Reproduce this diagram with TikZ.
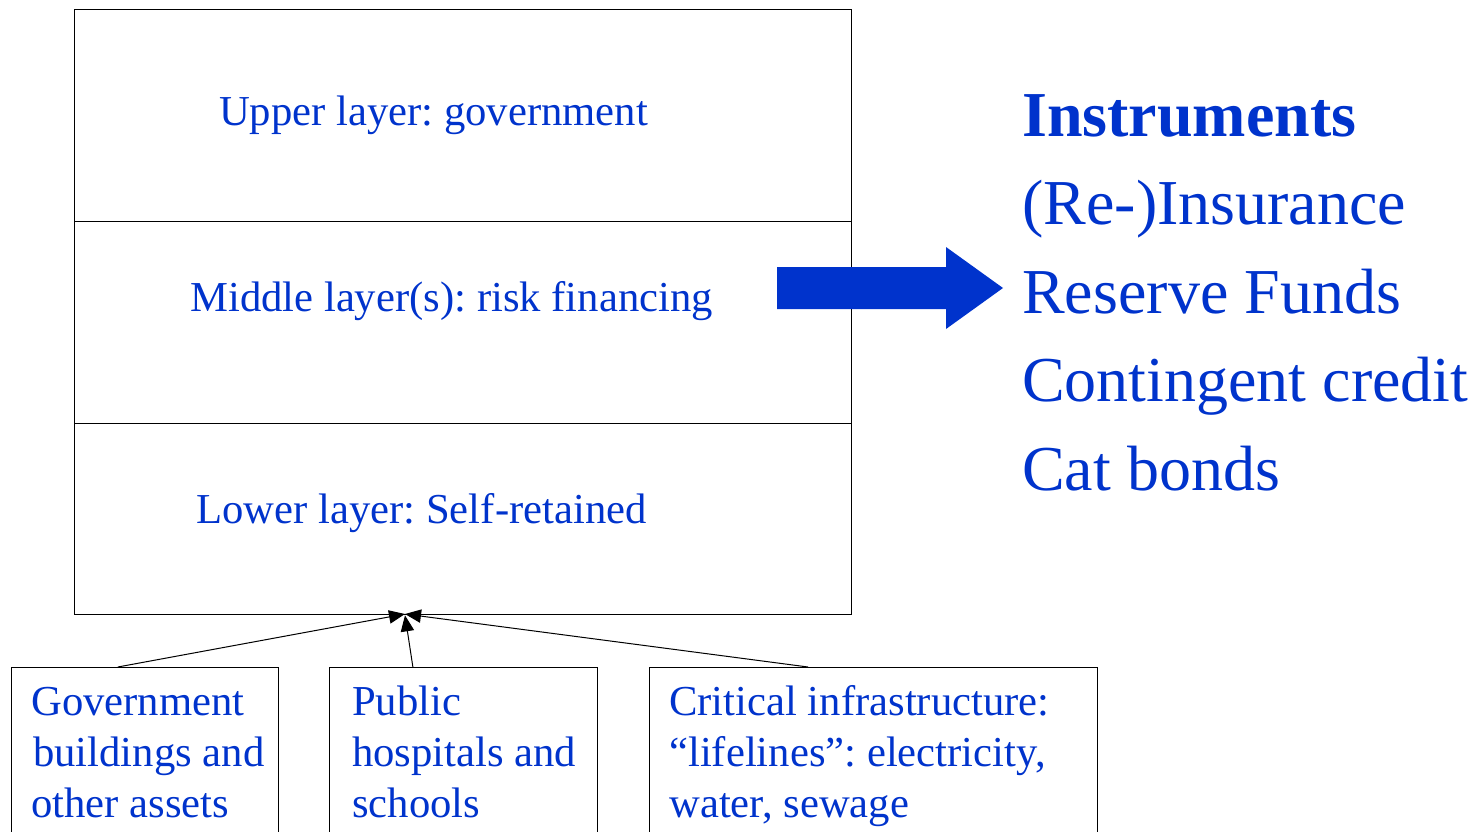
\documentclass[tikz,border=0pt]{standalone}
\usepackage{fontspec}
\setmainfont{Liberation Serif}
\usetikzlibrary{arrows.meta,calc}
\definecolor{ink}{RGB}{0,51,204}
\frenchspacing
\begin{document}
\begin{tikzpicture}[x={(0.75pt,0)},y={(0,-0.75pt)},
  frame/.style={draw=black, line width=0.75pt, inner sep=0, outer sep=0, anchor=north west},
  layertext/.style={text=ink, font=\fontsize{32}{38}\selectfont, inner sep=0, anchor=base},
  listtext/.style={text=ink, font=\fontsize{48}{58}\selectfont, inner sep=0, anchor=base west},
  boxtext/.style={text=ink, font=\fontsize{32}{38.4}\selectfont, inner sep=0, anchor=base west},
  feed/.style={draw=black, line width=0.75pt, -{Triangle[length=12pt,width=10pt]}}]
\useasboundingbox (0,0) rectangle (1475,832);

% three stacked layers
\node[frame, minimum width=582.75pt, minimum height=159pt] (upper) at (74,9) {};
\node[frame, minimum width=582.75pt, minimum height=151.5pt] (middle) at (upper.south west) {};
\node[frame, minimum width=582.75pt, minimum height=143.25pt] (lower) at (middle.south west) {};

\node[layertext] (tupper) at (433.5,125.5) {Upper layer: government};
\node[layertext] (tmiddle) at (451.5,311.5) {Middle layer(s): risk financing};
\node[layertext] (tlower) at (421.5,523.5) {Lower layer: Self-retained};

% asset boxes at the bottom
\node[frame, minimum width=200.25pt, minimum height=150pt] (gov) at (11,667) {};
\node[frame, minimum width=201pt, minimum height=150pt] (pub) at (329,667) {};
\node[frame, minimum width=336pt, minimum height=150pt] (crit) at (649,667) {};

\node[boxtext] (g1) at (31,715) {Government};
\node[boxtext] (g2) at (33,766) {buildings and};
\node[boxtext] (g3) at (31,817) {other assets};
\node[boxtext] (p1) at (352,715) {Public};
\node[boxtext] (p2) at (352,766) {hospitals and};
\node[boxtext] (p3) at (352,817) {schools};
\node[boxtext] (c1) at (669,715) {Critical infrastructure:};
\node[boxtext] (c2) at (669,766) {``lifelines'': electricity,};
\node[boxtext] (c3) at (669,817) {water, sewage};

% feeds into the lower layer
\coordinate (hub) at ($(lower.south west)!0.426!(lower.south east)$);
\draw[feed] ($(gov.north west)!0.4!(gov.north east)$) -- (hub);
\draw[feed] ($(pub.north west)!0.313!(pub.north east)$) -- ([yshift=-1pt]hub);
\draw[feed] ($(crit.north west)!0.355!(crit.north east)$) -- (hub);

% block arrow to the instruments
\fill[ink] (777,267) -- (946,267) -- (946,247) -- (1003,288) -- (946,329) -- (946,309) -- (777,309) -- cycle;

\node[listtext, font=\fontsize{48}{58}\selectfont\bfseries] (i0) at (1022,136) {Instruments};
\node[listtext] (i1) at (1022,224.5) {(Re-)Insurance};
\node[listtext] (i2) at (1022,313) {Reserve Funds};
\node[listtext] (i3) at (1022,401.5) {Contingent credit};
\node[listtext] (i4) at (1022,490) {Cat bonds};
\end{tikzpicture}
\end{document}
